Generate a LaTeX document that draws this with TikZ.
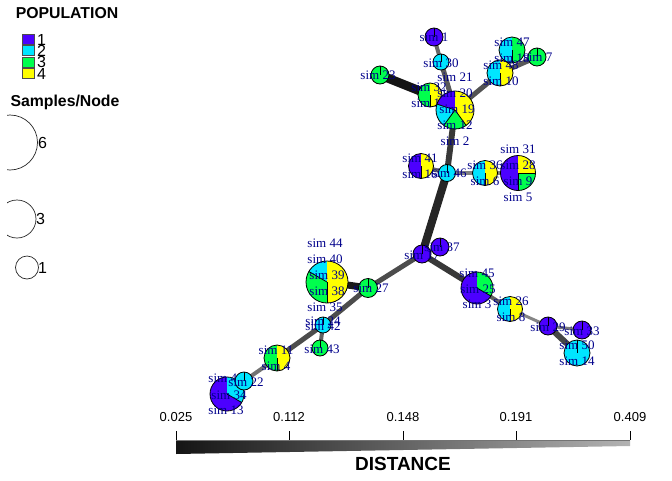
\documentclass[tikz,border=0pt]{standalone}
\usepackage{fontspec}
\setmainfont{Liberation Serif}
\setsansfont{Liberation Sans}
\usepackage{tikz}
\usetikzlibrary{positioning}
\usepackage{xcolor}
\definecolor{popA}{HTML}{4C00FF}
\definecolor{popB}{HTML}{00E5FF}
\definecolor{popC}{HTML}{00FF4D}
\definecolor{popD}{HTML}{FFFF00}
\definecolor{lblc}{RGB}{0,0,139}
\tikzset{
  simlbl/.style={font=\fontsize{13}{13}\selectfont,text=lblc,inner sep=0pt},
  legtxt/.style={font=\sffamily\fontsize{16}{16}\selectfont,inner sep=0pt},
  legttl/.style={font=\sffamily\bfseries\fontsize{15.8}{16}\selectfont,inner sep=0pt},
  ticklbl/.style={font=\sffamily\fontsize{13}{13}\selectfont,inner sep=0pt},
  rim/.style={draw=black,line width=0.8pt},
  link/.style={line cap=butt},
  swatch/.style={draw=black!70,line width=0.6pt},
}
% one slice of a pie, angles counted on screen from 90 counter-clockwise
\newcommand{\pieslice}[5]{%
  \fill[#5] (#1) -- ++({-(#3)}:#2) arc[start angle={-(#3)},end angle={-(#4)},radius=#2] -- cycle;
  \draw[rim] (#1) -- ++({-(#3)}:#2);}
\newcommand{\pierim}[2]{\draw[rim] (#1) circle[radius=#2];}

\begin{document}
\begin{tikzpicture}[x=1pt,y=-1pt]
  \useasboundingbox (0,0) rectangle (672,480);
  % vertices
  \coordinate (n1) at (434,37);
  \coordinate (n30) at (441,62);
  \coordinate (n32) at (430,95);
  \coordinate (n23) at (380,75);
  \coordinate (n20) at (455,110);
  \coordinate (n47) at (512,50);
  \coordinate (n7) at (537,57);
  \coordinate (n48) at (500,73);
  \coordinate (n41) at (421,166);
  \coordinate (n46) at (447,173);
  \coordinate (n36) at (485,173);
  \coordinate (n31) at (518,173);
  \coordinate (nE) at (422,254);
  \coordinate (n37) at (440,247);
  \coordinate (n39) at (327,282);
  \coordinate (n27) at (368,288);
  \coordinate (n42) at (323,325);
  \coordinate (n43) at (320,348);
  \coordinate (n11) at (277,358);
  \coordinate (n22) at (244,381);
  \coordinate (n34) at (227,394);
  \coordinate (n45) at (477,288);
  \coordinate (n26) at (510,309);
  \coordinate (n29) at (548,326);
  \coordinate (n33) at (582,330);
  \coordinate (n50) at (577,353);

  % edges
  \draw[link,black!60,line width=4pt] (n1) -- (n30);
  \draw[link,black!65,line width=5pt] (n30) -- (n20);
  \draw[link,black!92,line width=9pt] (n23) -- (n32);
  \draw[link,black!80,line width=5pt] (n32) -- (n20);
  \draw[link,black!68,line width=5pt] (n20) -- (n48);
  \draw[link,black!65,line width=5pt] (n48) -- (n7);
  \draw[link,black!60,line width=4pt] (n48) -- (n47);
  \draw[link,black!78,line width=6pt] (n20) -- (n46);
  \draw[link,black!60,line width=4pt] (n41) -- (n46);
  \draw[link,black!50,line width=4pt] (n46) -- (n36);
  \draw[link,black!50,line width=4pt] (n36) -- (n31);
  \draw[link,black!85,line width=8pt] (n46) -- (nE);
  \draw[link,black!60,line width=4pt] (nE) -- (n37);
  \draw[link,black!78,line width=6pt] (nE) -- (n45);
  \draw[link,black!70,line width=5pt] (nE) -- (n27);
  \draw[link,black!90,line width=7pt] (n27) -- (n39);
  \draw[link,black!70,line width=5pt] (n27) -- (n42);
  \draw[link,black!62,line width=4pt] (n42) -- (n43);
  \draw[link,black!70,line width=5pt] (n42) -- (n11);
  \draw[link,black!55,line width=4pt] (n11) -- (n22);
  \draw[link,black!60,line width=4pt] (n22) -- (n34);
  \draw[link,black!62,line width=4pt] (n45) -- (n26);
  \draw[link,black!48,line width=3pt] (n26) -- (n29);
  \draw[link,black!52,line width=3pt] (n29) -- (n33);
  \draw[link,black!72,line width=6pt] (n29) -- (n50);

  % pies and their labels
  \pieslice{n1}{9}{90}{450}{popA}\pierim{n1}{9}
  \node[simlbl] (l1) at (434,37) {sim 1};
  \pieslice{n30}{8}{90}{450}{popB}\pierim{n30}{8}
  \node[simlbl] (l30) at (441,63) {sim 30};
  \pieslice{n23}{9}{90}{450}{popC}\pierim{n23}{9}
  \node[simlbl] (l23) at (378,75) {sim 23};
  \pieslice{n32}{12}{90}{270}{popC}\pieslice{n32}{12}{270}{450}{popD}\pierim{n32}{12}
  \node[simlbl] (l32) at (429,87) {sim 32};
  \node[simlbl] (l15) at (429,103) {sim 15};
  \pieslice{n20}{19}{90}{162}{popA}\pieslice{n20}{19}{162}{234}{popB}
  \pieslice{n20}{19}{234}{306}{popC}\pieslice{n20}{19}{306}{450}{popD}\pierim{n20}{19}
  \node[simlbl] (l21) at (455,77) {sim 21};
  \node[simlbl] (l20) at (455,93) {sim 20};
  \node[simlbl] (l19) at (457,109) {sim 19};
  \node[simlbl] (l12) at (455,125) {sim 12};
  \node[simlbl] (l2) at (455,141) {sim 2};
  \pieslice{n47}{13}{90}{270}{popB}\pieslice{n47}{13}{270}{450}{popC}\pierim{n47}{13}
  \node[simlbl] (l47) at (512,42) {sim 47};
  \pieslice{n7}{9}{90}{450}{popC}\pierim{n7}{9}
  \node[simlbl] (l7) at (538,57) {sim 7};
  \pieslice{n48}{13}{90}{270}{popB}\pieslice{n48}{13}{270}{450}{popD}\pierim{n48}{13}
  \node[simlbl] (l18) at (512,58) {sim 18};
  \node[simlbl] (l48) at (501,65) {sim 48};
  \node[simlbl] (l10) at (501,81) {sim 10};
  \pieslice{n41}{12.5}{90}{270}{popA}\pieslice{n41}{12.5}{270}{450}{popD}\pierim{n41}{12.5}
  \node[simlbl] (l41) at (420,158) {sim 41};
  \node[simlbl] (l16) at (420,174) {sim 16};
  \pieslice{n46}{8.5}{90}{450}{popB}\pierim{n46}{8.5}
  \node[simlbl] (l46) at (449,173) {sim 46};
  \pieslice{n36}{12.5}{90}{270}{popB}\pieslice{n36}{12.5}{270}{450}{popD}\pierim{n36}{12.5}
  \node[simlbl] (l36) at (485,165) {sim 36};
  \node[simlbl] (l6) at (485,181) {sim 6};
  \pieslice{n31}{17.5}{90}{270}{popA}\pieslice{n31}{17.5}{270}{360}{popC}
  \pieslice{n31}{17.5}{360}{450}{popD}\pierim{n31}{17.5}
  \node[simlbl] (l31) at (518,149) {sim 31};
  \node[simlbl] (l28) at (518,165) {sim 28};
  \node[simlbl] (l9) at (518,181) {sim 9};
  \node[simlbl] (l5) at (518,197) {sim 5};
  \pieslice{nE}{9}{90}{450}{popA}\pierim{nE}{9}
  \node[simlbl] (l17) at (422,255) {sim 17};
  \pieslice{n37}{9}{90}{450}{popA}\pierim{n37}{9}
  \node[simlbl] (l37) at (442,247) {sim 37};
  \pieslice{n39}{21}{90}{150}{popB}\pieslice{n39}{21}{150}{270}{popC}
  \pieslice{n39}{21}{270}{450}{popD}\pierim{n39}{21}
  \node[simlbl] (l44) at (325,243) {sim 44};
  \node[simlbl] (l40) at (325,259) {sim 40};
  \node[simlbl] (l39) at (327,275) {sim 39};
  \node[simlbl] (l38) at (327,291) {sim 38};
  \node[simlbl] (l35) at (325,307) {sim 35};
  \pieslice{n27}{9.5}{90}{450}{popC}\pierim{n27}{9.5}
  \node[simlbl] (l27) at (371,288) {sim 27};
  \pieslice{n42}{8}{90}{450}{popB}\pierim{n42}{8}
  \node[simlbl] (l24) at (323,321) {sim 24};
  \node[simlbl] (l42) at (323,326) {sim 42};
  \pieslice{n43}{8}{90}{450}{popC}\pierim{n43}{8}
  \node[simlbl] (l43) at (322,349) {sim 43};
  \pieslice{n11}{13}{90}{270}{popC}\pieslice{n11}{13}{270}{450}{popD}\pierim{n11}{13}
  \node[simlbl] (l11) at (276,350) {sim 11};
  \node[simlbl] (l4) at (276,366) {sim 4};
  \pieslice{n34}{17}{90}{330}{popA}\pieslice{n34}{17}{330}{450}{popB}\pierim{n34}{17}
  \node[simlbl] (l49) at (226,378) {sim 49};
  \node[simlbl] (l34) at (229,395) {sim 34};
  \node[simlbl] (l13) at (226,410) {sim 13};
  \pieslice{n22}{9}{90}{450}{popB}\pierim{n22}{9}
  \node[simlbl] (l22) at (246,382) {sim 22};
  \pieslice{n45}{16}{90}{330}{popA}\pieslice{n45}{16}{330}{450}{popC}\pierim{n45}{16}
  \node[simlbl] (l45) at (477,273) {sim 45};
  \node[simlbl] (l25) at (478,289) {sim 25};
  \node[simlbl] (l3) at (477,304) {sim 3};
  \pieslice{n26}{12.5}{90}{270}{popB}\pieslice{n26}{12.5}{270}{450}{popD}\pierim{n26}{12.5}
  \node[simlbl] (l26) at (511,301) {sim 26};
  \node[simlbl] (l8) at (511,317) {sim 8};
  \pieslice{n29}{9}{90}{450}{popA}\pierim{n29}{9}
  \node[simlbl] (l29) at (548,327) {sim 29};
  \pieslice{n33}{9}{90}{450}{popA}\pierim{n33}{9}
  \node[simlbl] (l33) at (582,331) {sim 33};
  \pieslice{n50}{13}{90}{450}{popB}\pierim{n50}{13}
  \node[simlbl] (l50) at (577,345) {sim 50};
  \node[simlbl] (l14) at (577,361) {sim 14};

  % legend
  \node[legttl] (popttl) at (67,13) {POPULATION};
  \foreach \i/\col/\yy in {1/popA/39.5,2/popB/50.5,3/popC/62,4/popD/73.5}{
    \draw[swatch,fill=\col] (22.5,\yy-4.8) rectangle (34,\yy+4.8);
    \node[legtxt,anchor=west] (pop\i) at (37,\yy) {\i};
  }
  \node[legttl] (sizettl) at (65,102) {Samples/Node};
  \begin{scope}
    \clip (7,110) rectangle (60,290);
    \draw[black!85,line width=0.7pt] (10,142.5) circle[radius=27.5];
    \draw[black!85,line width=0.7pt] (17,219) circle[radius=19];
    \draw[black!85,line width=0.7pt] (27,267.5) circle[radius=11.5];
  \end{scope}
  \node[legtxt,anchor=west] (sz6) at (38,143) {6};
  \node[legtxt,anchor=west] (sz3) at (36,219) {3};
  \node[legtxt,anchor=west] (sz1) at (38,268) {1};

  % distance scale
  \shade[left color=black!92,middle color=black!74,right color=black!30]
    (176,440) -- (630,440) -- (630,446) -- (176,454) -- cycle;
  \draw[black!55,line width=1pt] (176,440.5) -- (630,440.5);
  \foreach \xx/\v in {176/0.025,289/0.112,403/0.148,516/0.191,630/0.409}{
    \draw[black,line width=0.6pt] (\xx,431) -- (\xx,440);
    \node[ticklbl] (tk\xx) at (\xx,417) {\v};
  }
  \node[font=\sffamily\bfseries\fontsize{19}{19}\selectfont,inner sep=0pt] (distttl) at (403,464) {DISTANCE};
\end{tikzpicture}
\end{document}
